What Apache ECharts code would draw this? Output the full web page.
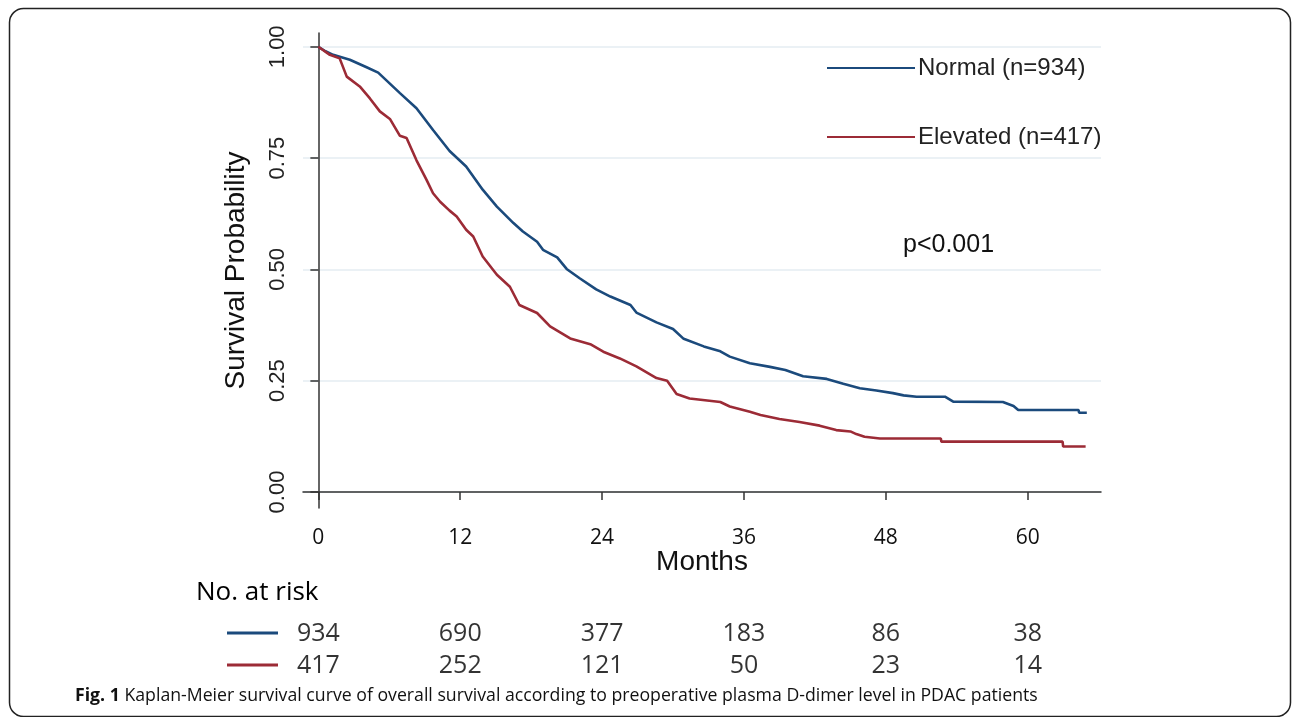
<!DOCTYPE html>
<html>
<head>
<meta charset="utf-8">
<script src="https://cdn.jsdelivr.net/npm/echarts@6/dist/echarts.min.js"></script>
<style>
html,body{margin:0;padding:0;background:#fff;}
#chart{width:1292px;height:717px;}
</style>
</head>
<body>
<div id="chart"></div>
<script>
// ---- data ----
const tickMonths = [0, 12, 24, 36, 48, 60];
const yTicks = [0, 0.25, 0.5, 0.75, 1];

const normalMonths = [0, 0.6, 1.25, 2.66, 4.08, 5.06, 6.9, 8.3, 9.7, 11.1, 12.5, 13.9, 15.1, 16.5, 17.3, 18.5, 19.0, 20.2, 21.0, 22.1, 23.5, 24.7, 26.4, 26.9, 28.6, 30.0, 30.9, 32.6, 34.0, 34.8, 36.5, 38.2, 39.5, 41.0, 43.0, 44.4, 45.8, 47.2, 48.6, 49.5, 50.6, 53.0, 53.7, 57.9, 58.8, 59.2, 64.3, 64.35, 65.0];
const normalSurv   = [1.000, 0.990, 0.982, 0.971, 0.954, 0.942, 0.896, 0.862, 0.813, 0.766, 0.731, 0.679, 0.641, 0.604, 0.585, 0.562, 0.544, 0.527, 0.501, 0.480, 0.455, 0.439, 0.420, 0.403, 0.381, 0.366, 0.344, 0.327, 0.316, 0.304, 0.289, 0.281, 0.274, 0.260, 0.254, 0.243, 0.233, 0.228, 0.222, 0.217, 0.214, 0.214, 0.203, 0.202, 0.193, 0.184, 0.184, 0.178, 0.178];

const elevatedMonths = [0, 0.97, 1.8, 2.4, 3.5, 4.36, 5.2, 6.05, 6.9, 7.46, 8.3, 9.15, 9.7, 10.3, 11.1, 11.7, 12.5, 13.1, 13.9, 15.1, 16.2, 17.0, 18.5, 19.6, 21.3, 23.0, 24.1, 25.5, 26.9, 28.6, 29.5, 30.3, 31.4, 34.0, 34.8, 36.5, 37.4, 39.0, 40.7, 42.4, 43.8, 45.0, 45.5, 46.2, 47.5, 52.65, 52.7, 62.95, 63.0, 64.9];
const elevatedSurv   = [1.000, 0.982, 0.974, 0.933, 0.911, 0.884, 0.855, 0.838, 0.800, 0.795, 0.745, 0.701, 0.671, 0.652, 0.632, 0.619, 0.589, 0.574, 0.529, 0.488, 0.461, 0.420, 0.402, 0.372, 0.345, 0.332, 0.315, 0.300, 0.282, 0.256, 0.250, 0.220, 0.210, 0.202, 0.192, 0.180, 0.173, 0.164, 0.157, 0.149, 0.139, 0.136, 0.130, 0.124, 0.120, 0.120, 0.113, 0.113, 0.102, 0.102];

const riskNormal   = [934, 690, 377, 183, 86, 38];
const riskElevated = [417, 252, 121, 50, 23, 14];

const seriesNames = ['Normal (n=934)', 'Elevated (n=417)'];
const pValueText = 'p<0.001';
const xName = 'Months';
const yName = 'Survival Probability';
const riskTitle = 'No. at risk';
const captionBold = 'Fig. 1';
const captionText = ' Kaplan-Meier survival curve of overall survival according to preoperative plasma D-dimer level in PDAC patients';

// ---- build ----
const BLUE = '#1b4a7c';
const RED = '#9c2b36';
const ARIAL = '"Liberation Sans", Arial, sans-serif';
const MYRIAD = '"Open Sans", "Noto Sans", sans-serif';

const pairs = (xs, ys) => xs.map((x, i) => [x, ys[i]]);
const riskData = [];
tickMonths.forEach((m, i) => {
  riskData.push([m, 0.5, riskNormal[i]]);
  riskData.push([m, 1.5, riskElevated[i]]);
});

const chart = echarts.init(document.getElementById('chart'), null, {renderer: 'canvas'});
chart.setOption({
  animation: false,
  backgroundColor: '#fff',
  grid: [
    {left: 303, right: 191, top: 33, bottom: 209, containLabel: false},
    {left: 303, right: 191, top: 618, height: 64, containLabel: false}
  ],
  xAxis: [{
    type: 'value', gridIndex: 0, min: -1.3, max: 66.2,
    name: xName, nameLocation: 'middle', nameGap: 40, nameMoveOverlap: false,
    nameTextStyle: {fontFamily: ARIAL, fontSize: 28, color: '#111'},
    axisLine: {show: true, lineStyle: {color: '#333', width: 1.5}},
    axisTick: {show: true, length: 8, lineStyle: {color: '#333', width: 1.5}, customValues: tickMonths},
    axisLabel: {customValues: tickMonths, margin: 20, fontFamily: MYRIAD, fontSize: 21, color: '#111'},
    splitLine: {show: false}
  }, {
    type: 'value', gridIndex: 1, min: -1.3, max: 66.2, show: false
  }],
  yAxis: [{
    type: 'value', gridIndex: 0, min: -0.036, max: 1.031,
    name: yName, nameLocation: 'middle', nameGap: 53,
    nameTextStyle: {fontFamily: ARIAL, fontSize: 28, color: '#111'},
    axisLine: {show: true, lineStyle: {color: '#333', width: 1.5}},
    axisTick: {show: true, length: 8, lineStyle: {color: '#333', width: 1.5}, customValues: yTicks},
    axisLabel: {customValues: yTicks, rotate: 90, margin: 14, fontFamily: ARIAL, fontSize: 22, color: '#222',
      formatter: v => v.toFixed(2)},
    splitLine: {show: true, lineStyle: {color: '#e4edf2', width: 1.5}}
  }, {
    type: 'value', gridIndex: 1, min: 0, max: 2, inverse: true, show: false
  }],
  legend: {
    orient: 'vertical', left: 827, top: 56, padding: 0,
    itemWidth: 88, itemHeight: 2, itemGap: 45, icon: 'rect',
    data: seriesNames,
    textStyle: {fontFamily: ARIAL, fontSize: 24, color: '#222', padding: [0, 0, 0, -2]}
  },
  series: [{
    name: seriesNames[0], type: 'line', xAxisIndex: 0, yAxisIndex: 0,
    data: pairs(normalMonths, normalSurv), showSymbol: false, symbol: 'none',
    lineStyle: {color: BLUE, width: 2.6}, itemStyle: {color: BLUE}
  }, {
    name: seriesNames[1], type: 'line', xAxisIndex: 0, yAxisIndex: 0,
    data: pairs(elevatedMonths, elevatedSurv), showSymbol: false, symbol: 'none',
    lineStyle: {color: RED, width: 2.6}, itemStyle: {color: RED}
  }, {
    name: 'risk', type: 'scatter', xAxisIndex: 1, yAxisIndex: 1,
    data: riskData, symbolSize: 1, itemStyle: {color: 'rgba(0,0,0,0)'},
    label: {show: true, position: 'inside', formatter: p => String(p.value[2]),
      fontFamily: MYRIAD, fontSize: 25, color: '#000'},
    silent: true
  }],
  graphic: [
    {type: 'rect', shape: {x: 9.5, y: 8.5, width: 1281, height: 708, r: 14},
     style: {fill: 'none', stroke: '#222', lineWidth: 1.5}, silent: true},
    {type: 'text', left: 903, top: 233, style: {text: pValueText, fontFamily: ARIAL, fontSize: 25, fill: '#111'}},
    {type: 'text', left: 196, top: 580, style: {text: riskTitle, fontFamily: MYRIAD, fontSize: 26, fill: '#000'}},
    {type: 'line', shape: {x1: 227, y1: 633, x2: 278, y2: 633}, style: {stroke: BLUE, lineWidth: 3}},
    {type: 'line', shape: {x1: 227, y1: 665, x2: 278, y2: 665}, style: {stroke: RED, lineWidth: 3}},
    {type: 'text', left: 75, top: 687, style: {
      text: '{b|' + captionBold + '}{n|' + captionText + '}',
      rich: {
        b: {fontFamily: MYRIAD, fontSize: 17.7, fontWeight: 'bold', fill: '#111'},
        n: {fontFamily: MYRIAD, fontSize: 17.7, fill: '#111'}
      }
    }}
  ]
});
</script>
</body>
</html>
